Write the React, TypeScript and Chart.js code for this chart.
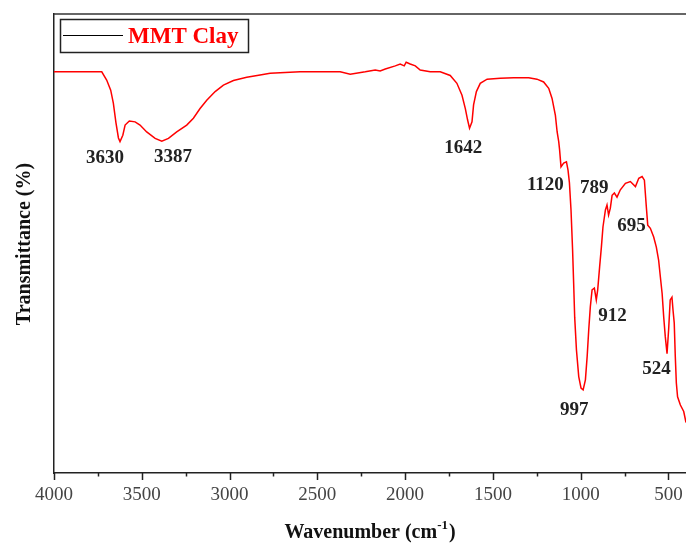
import React, { useEffect, useRef } from "react";
import { Chart, registerables } from "chart.js";

Chart.register(...registerables);

const wavenumbers = [
  4000, 3795, 3728, 3700, 3677, 3662, 3647, 3633, 3624, 3608, 3595, 3571, 3538, 3510, 3472, 3424, 3386, 3348, 3301, 3244,
  3206, 3168, 3130, 3082, 3035, 2978, 2902, 2826, 2769, 2598, 2370, 2313, 2227, 2170, 2142, 2113, 2056, 2028, 2005, 1994,
  1971, 1942, 1914, 1857, 1800, 1743, 1705, 1676, 1657, 1644, 1633, 1619, 1610, 1594, 1572, 1533, 1458, 1382, 1296, 1249,
  1211, 1182, 1163, 1144, 1134, 1125, 1120, 1112, 1097, 1081, 1072, 1064, 1055, 1046, 1040, 1034, 1024, 1011, 998, 986,
  973, 963, 954, 945, 935, 922, 911, 903, 892, 882, 873, 859, 850, 841, 831, 821, 808, 793, 774, 745,
  717, 688, 669, 650, 637, 626, 618, 603, 584, 569, 556, 546, 536, 527, 518, 508, 499, 490, 480, 474,
  467, 461, 455, 448, 432, 413, 400,
];
const transmittance = [
  87.4, 87.4, 87.4, 85.6, 83.4, 80.6, 76.3, 73.0, 72.2, 73.6, 75.8, 76.7, 76.5, 75.8, 74.3, 72.9, 72.3, 72.9, 74.3, 75.8,
  77.3, 79.4, 81.2, 83.1, 84.5, 85.5, 86.2, 86.7, 87.1, 87.4, 87.4, 86.9, 87.4, 87.8, 87.6, 88.0, 88.7, 89.1, 88.7, 89.5,
  89.1, 88.7, 87.8, 87.4, 87.4, 86.6, 84.9, 82.3, 79.4, 76.9, 75.1, 76.5, 80.2, 83.1, 84.9, 85.8, 86.0, 86.1, 86.1, 85.8,
  85.2, 83.8, 81.6, 77.9, 74.3, 72.2, 70.4, 66.7, 67.5, 67.8, 66.0, 63.2, 57.3, 48.6, 41.4, 33.9, 26.8, 21.0, 18.5, 18.1,
  20.3, 25.4, 31.2, 36.2, 39.9, 40.3, 37.7, 39.9, 44.9, 49.2, 53.6, 57.3, 58.4, 56.2, 57.7, 60.5, 61.0, 60.1, 61.7, 63.1,
  63.5, 62.4, 64.2, 64.6, 63.8, 58.0, 54.0, 53.3, 51.4, 49.2, 46.4, 42.7, 39.1, 34.0, 29.7, 26.0, 31.2, 37.7, 38.3, 35.5,
  32.7, 25.4, 19.6, 16.6, 14.8, 13.4, 11.0,
];

const majorTicks = [4000, 3500, 3000, 2500, 2000, 1500, 1000, 500];
const minorTicks = [3750, 3250, 2750, 2250, 1750, 1250, 750];

const peakLabels = ["3630", "3387", "1642", "1120", "789", "695", "912", "997", "524"];
const peakLabelX = [3709, 3322, 1669, 1201, 922, 711, 819, 1036, 568];
const peakLabelY = [68.6, 68.8, 70.8, 62.7, 62.1, 53.8, 34.2, 13.7, 22.7];

const seriesName = "MMT Clay";
const xTitle = "Wavenumber (cm";
const xTitleSup = "-1";
const yTitle = "Transmittance (%)";

const SERIF = "'Liberation Serif', 'Times New Roman', serif";

const overlayPlugin = {
  id: "overlay",
  afterDraw(chart: any) {
    const ctx = chart.ctx as CanvasRenderingContext2D;
    const { left, right, top, bottom } = chart.chartArea;
    const xs = chart.scales.x;
    const ys = chart.scales.y;
    ctx.save();

    // top frame line
    ctx.strokeStyle = "#333";
    ctx.lineWidth = 1.5;
    ctx.beginPath();
    ctx.moveTo(left, top);
    ctx.lineTo(right, top);
    ctx.stroke();

    // tick marks
    ctx.strokeStyle = "#222";
    ctx.lineWidth = 1.5;
    majorTicks.forEach((v) => {
      const px = Math.round(xs.getPixelForValue(v)) + 0.5;
      ctx.beginPath();
      ctx.moveTo(px, bottom);
      ctx.lineTo(px, bottom + 7);
      ctx.stroke();
    });
    minorTicks.forEach((v) => {
      const px = Math.round(xs.getPixelForValue(v)) + 0.5;
      ctx.beginPath();
      ctx.moveTo(px, bottom);
      ctx.lineTo(px, bottom + 3.5);
      ctx.stroke();
    });

    // peak labels
    ctx.fillStyle = "#222";
    ctx.font = `bold 19px ${SERIF}`;
    ctx.textAlign = "center";
    ctx.textBaseline = "middle";
    peakLabels.forEach((t, i) => {
      ctx.fillText(t, xs.getPixelForValue(peakLabelX[i]), ys.getPixelForValue(peakLabelY[i]));
    });

    // legend box
    ctx.strokeStyle = "#222";
    ctx.lineWidth = 1.5;
    ctx.strokeRect(left + 6.5, top + 5.5, 188, 33);
    ctx.strokeStyle = "#000";
    ctx.lineWidth = 1.2;
    ctx.beginPath();
    ctx.moveTo(left + 9, top + 21.5);
    ctx.lineTo(left + 69, top + 21.5);
    ctx.stroke();
    ctx.fillStyle = "#ff0000";
    ctx.font = `bold 23px ${SERIF}`;
    ctx.textAlign = "left";
    ctx.textBaseline = "alphabetic";
    ctx.fillText(seriesName, left + 74, top + 29);

    // x title with superscript
    ctx.fillStyle = "#111";
    ctx.font = `bold 20px ${SERIF}`;
    const w1 = ctx.measureText(xTitle).width;
    ctx.font = `bold 13px ${SERIF}`;
    const w2 = ctx.measureText(xTitleSup).width;
    ctx.font = `bold 20px ${SERIF}`;
    const w3 = ctx.measureText(")").width;
    const total = w1 + w2 + w3 + 1;
    const cx = (left + right) / 2;
    let x0 = cx - total / 2;
    const base = 538;
    ctx.fillText(xTitle, x0, base);
    x0 += w1;
    ctx.font = `bold 13px ${SERIF}`;
    ctx.fillText(xTitleSup, x0, base - 9);
    x0 += w2 + 1;
    ctx.font = `bold 20px ${SERIF}`;
    ctx.fillText(")", x0, base);

    // y title
    ctx.translate(25, 244);
    ctx.rotate(-Math.PI / 2);
    ctx.textAlign = "center";
    ctx.textBaseline = "middle";
    ctx.fillText(yTitle, 0, 0);

    ctx.restore();
  },
};

export default function App() {
  const ref = useRef<HTMLCanvasElement | null>(null);
  useEffect(() => {
    if (!ref.current) return;
    const points = wavenumbers.map((w, i) => ({ x: w, y: transmittance[i] }));
    const chart = new Chart(ref.current, {
      type: "line",
      data: {
        datasets: [
          {
            label: seriesName,
            data: points,
            borderColor: "#ff0000",
            borderWidth: 1.5,
            pointRadius: 0,
            tension: 0,
            fill: false,
          },
        ],
      },
      options: {
        animation: false,
        responsive: false,
        devicePixelRatio: 1,
        layout: { padding: { top: 14, right: 0, left: 0, bottom: 0 } },
        plugins: { legend: { display: false }, tooltip: { enabled: false } },
        scales: {
          x: {
            type: "linear",
            reverse: true,
            min: 400,
            max: 4000,
            afterBuildTicks: (s: any) => {
              s.ticks = majorTicks.map((v) => ({ value: v }));
            },
            afterFit: (s: any) => {
              s.height = 74;
              s.paddingLeft = 0;
              s.paddingRight = 0;
            },
            ticks: {
              autoSkip: false,
              maxRotation: 0,
              padding: 11,
              color: "#444",
              font: { family: SERIF, size: 19 },
              callback: (v: any) => String(v),
            },
            grid: { drawOnChartArea: false, drawTicks: false },
            border: { display: true, color: "#222", width: 1.5 },
          },
          y: {
            min: 0,
            max: 100,
            afterFit: (s: any) => {
              s.width = 54;
              s.paddingTop = 0;
              s.paddingBottom = 0;
            },
            ticks: { display: false },
            grid: { drawOnChartArea: false, drawTicks: false },
            border: { display: true, color: "#222", width: 1.5 },
          },
        },
      },
      plugins: [overlayPlugin],
    });
    return () => chart.destroy();
  }, []);
  return (
    <div style={{ position: "absolute", left: 0, top: 0, width: 686, height: 547, background: "#fff" }}>
      <canvas ref={ref} width={686} height={547} style={{ display: "block" }} />
    </div>
  );
}
